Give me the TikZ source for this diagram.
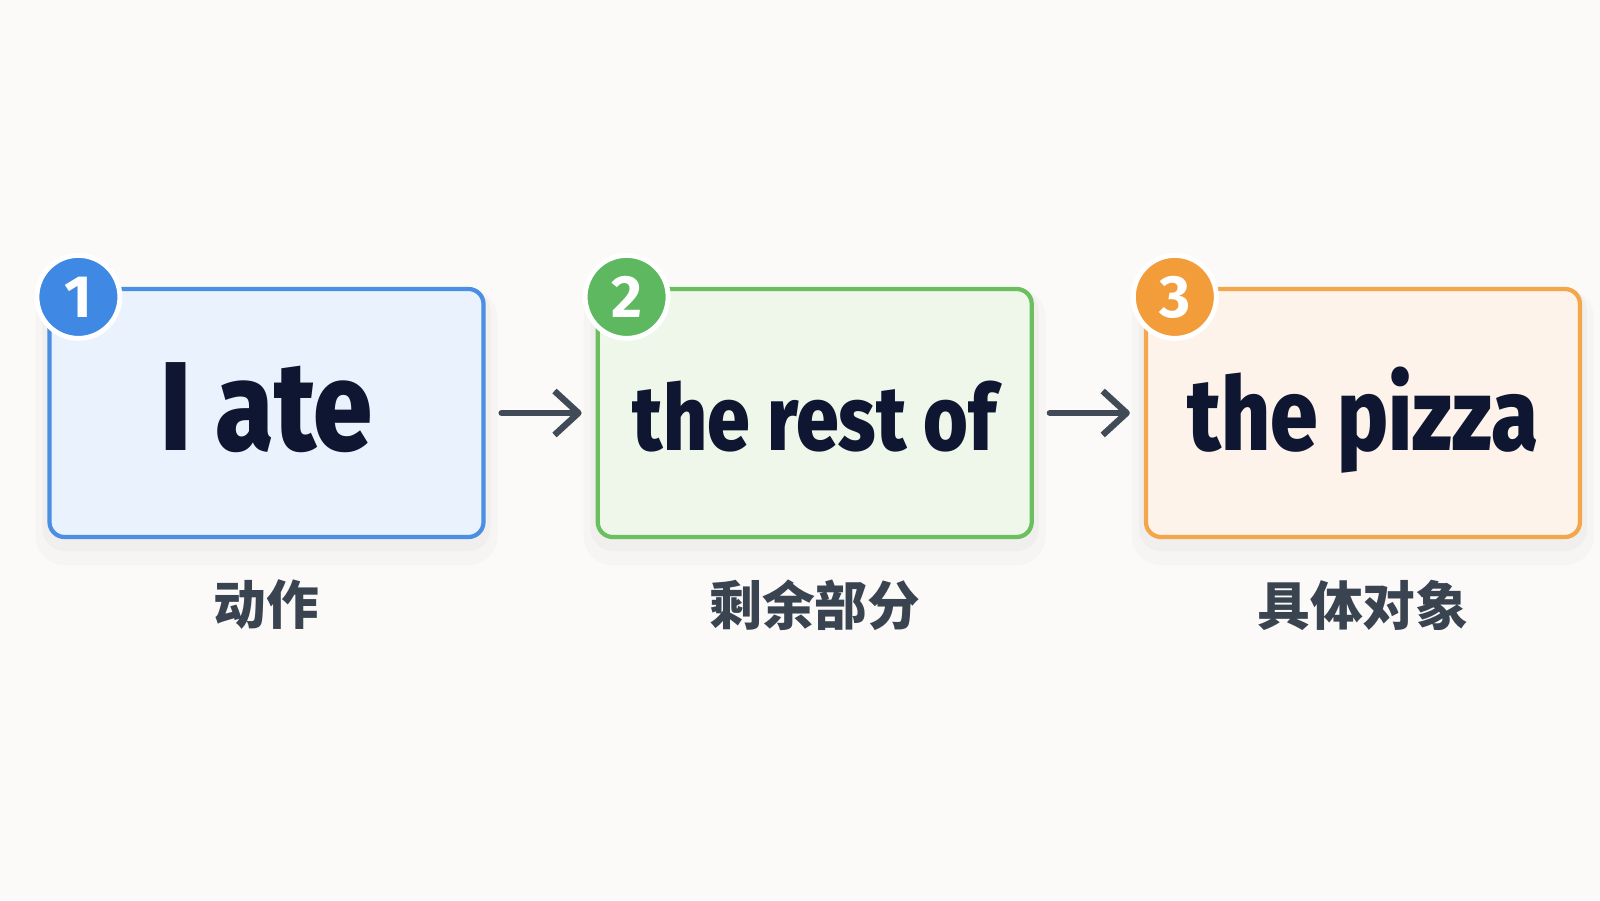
\documentclass[tikz,border=0pt]{standalone}
\usepackage{fontspec}
\setmainfont{Fira Sans}
\newfontfamily\wordfont{Fira Sans}[FakeStretch=0.84, BoldFont={* ExtraBold}]
\newfontfamily\cjk{Noto Sans CJK SC}
\usetikzlibrary{positioning,arrows.meta}
\definecolor{bgcol}{HTML}{FBFAF8}
\definecolor{wordcol}{HTML}{0E1631}
\definecolor{tagcol}{HTML}{3A4451}
\definecolor{linkcol}{HTML}{414B57}
\definecolor{blueline}{HTML}{4A8FE4}
\definecolor{bluefill}{HTML}{EAF3FD}
\definecolor{bluebadge}{HTML}{3F89E5}
\definecolor{greenline}{HTML}{6BBF5E}
\definecolor{greenfill}{HTML}{EEF7EA}
\definecolor{greenbadge}{HTML}{5DB860}
\definecolor{orangeline}{HTML}{F4A64A}
\definecolor{orangefill}{HTML}{FDF3EA}
\definecolor{orangebadge}{HTML}{F39C3A}
\begin{document}
\begin{tikzpicture}[
    box/.style={draw, line width=1.2pt, rounded corners=0.15cm, inner sep=0pt,
        minimum width=4.34cm, minimum height=2.48cm, text=wordcol,
        text height=0.74cm, text depth=0pt,
        preaction={draw=black, draw opacity=0.02, line width=8pt,
            transform canvas={yshift=-4pt}},
        preaction={draw=black, draw opacity=0.025, line width=4pt,
            transform canvas={yshift=-2pt}}},
    wordsize/.style={font=\wordfont\bfseries\fontsize{#1}{#1}\selectfont},
    badge/.style={circle, draw=white, line width=1.4pt, minimum size=0.83cm,
        inner sep=0pt, text=white, font=\bfseries\fontsize{17}{17}\selectfont},
    tag/.style={inner sep=0pt, text=tagcol,
        font=\cjk\bfseries\fontsize{15}{15}\selectfont},
    link/.style={draw=linkcol, line width=1.8pt, line cap=round,
        -{Straight Barb[length=0.24cm, width=0.44cm, line join=round]}}
]
    \fill[bgcol] (0, 0) rectangle (16, 9);
    \node[box, wordsize=36, draw=blueline, fill=bluefill] (box1) at (2.665, 4.87) {I ate};
    \node[box, wordsize=26, draw=greenline, fill=greenfill, right=1.1cm of box1] (box2) {the rest of};
    \node[box, wordsize=29, draw=orangeline, fill=orangefill, right=1.1cm of box2] (box3) {the pizza};
    \node[badge, fill=bluebadge] (num1) at ([shift={(0.31, -0.10)}]box1.north west) {1};
    \node[badge, fill=greenbadge] (num2) at ([shift={(0.31, -0.10)}]box2.north west) {2};
    \node[badge, fill=orangebadge] (num3) at ([shift={(0.31, -0.10)}]box3.north west) {3};
    \draw[link] ([xshift=0.16cm]box1.east) -- ([xshift=-0.14cm]box2.west);
    \draw[link] ([xshift=0.16cm]box2.east) -- ([xshift=-0.14cm]box3.west);
    \node[tag, below=0.4cm of box1] (tag1) {动作};
    \node[tag, below=0.4cm of box2] (tag2) {剩余部分};
    \node[tag, below=0.4cm of box3] (tag3) {具体对象};
\end{tikzpicture}
\end{document}
